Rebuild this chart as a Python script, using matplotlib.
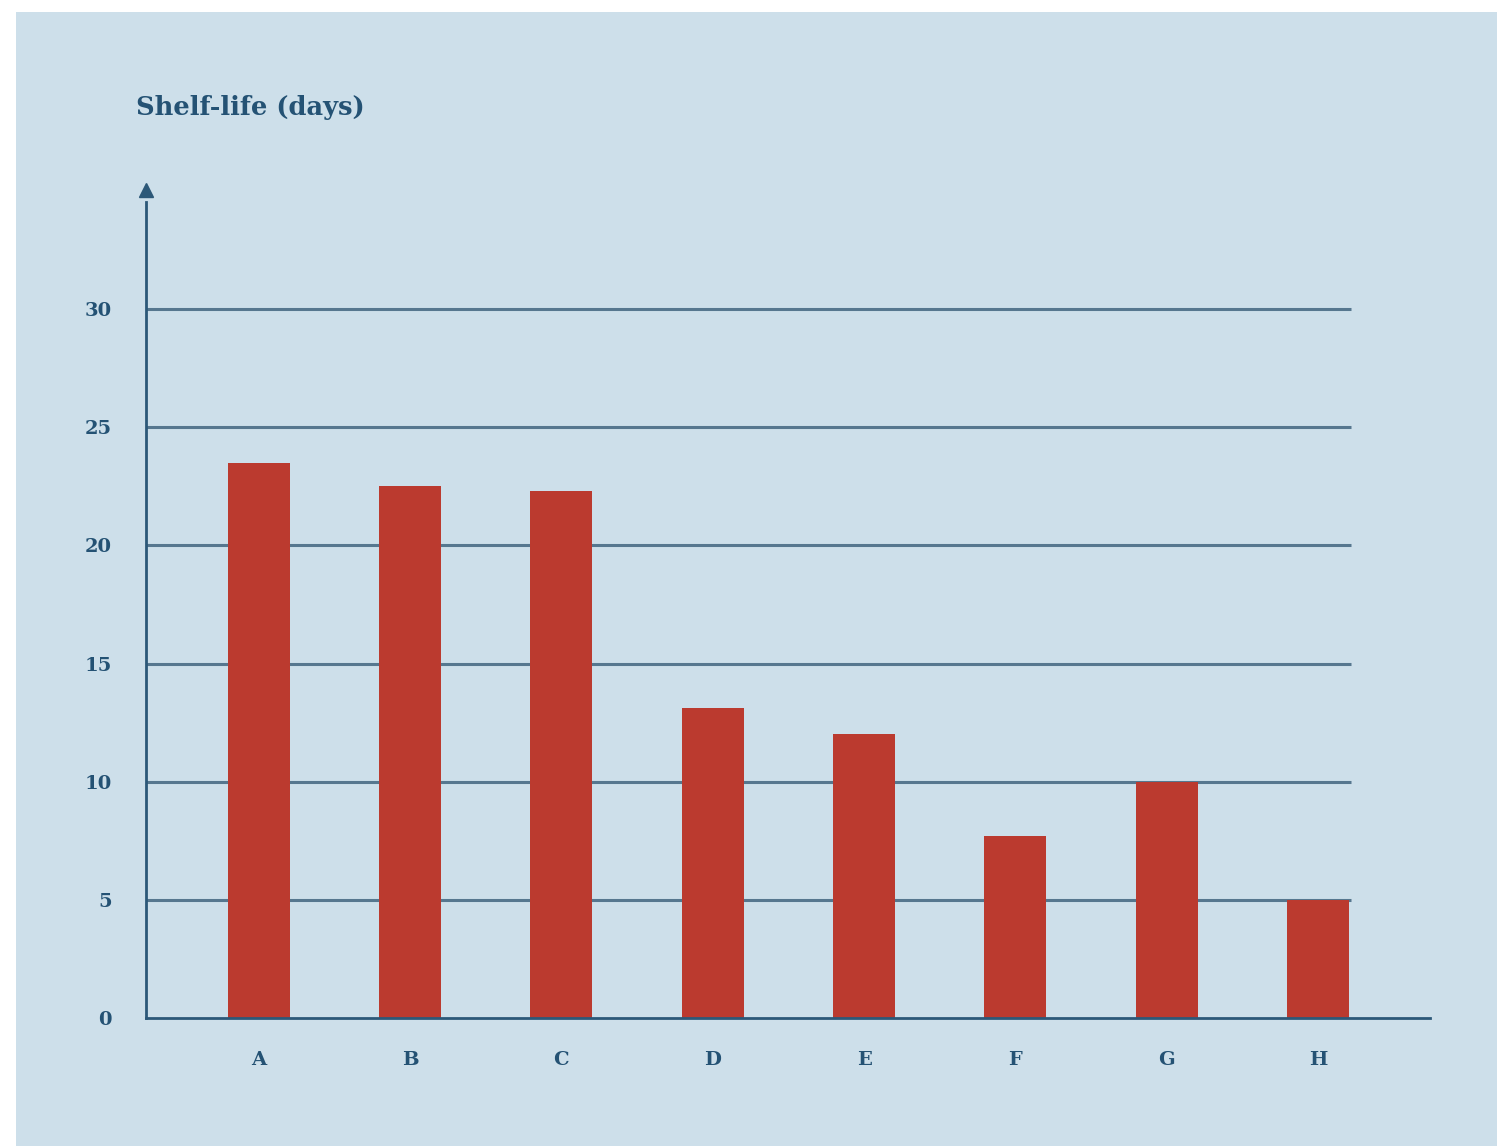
import matplotlib
matplotlib.use("Agg")
import matplotlib.pyplot as plt
from matplotlib.patches import Rectangle

# Shelf-life per product
categories = ["A", "B", "C", "D", "E", "F", "G", "H"]
shelf_life = [23.5, 22.5, 22.3, 13.1, 12.0, 7.7, 10.0, 5.0]
y_ticks = [0, 5, 10, 15, 20, 25, 30]

W, H = 1502, 1146
bg = "#cddfea"
bar_color = "#bb3a2f"
grid_color = "#56778f"
axis_color = "#2c5878"
text_color = "#245274"

fig = plt.figure(figsize=(W / 100, H / 100), dpi=100, facecolor="white")
fig.patches.append(Rectangle((16 / W, 0), (1497 - 16) / W, (H - 12) / H,
                             transform=fig.transFigure, facecolor=bg,
                             edgecolor="none", zorder=-10))

ax_left, ax_right = 146, 1430
ax_bottom, ax_top = 1018, 190
ax = fig.add_axes([ax_left / W, (H - ax_bottom) / H,
                   (ax_right - ax_left) / W, (ax_bottom - ax_top) / H])
ax.set_facecolor("none")

ymax = 35.04
ax.set_ylim(0, ymax)
ax.set_xlim(-0.745, 7.74)

x = list(range(len(categories)))
# horizontal reference lines behind the bars
ax.hlines(y_ticks[1:], -0.745, 7.22, colors=grid_color, linewidth=2.2, zorder=1)
ax.bar(x, shelf_life, width=0.41, color=bar_color, zorder=2)

for s in ["top", "right"]:
    ax.spines[s].set_visible(False)
for s in ["left", "bottom"]:
    ax.spines[s].set_color(axis_color)
    ax.spines[s].set_linewidth(2)
ax.spines["left"].set_bounds(0, ymax - 0.5)

# arrow head on the y-axis
ax.plot([0], [1], marker="^", markersize=10, color=axis_color,
        transform=ax.transAxes, clip_on=False, zorder=3)

font = dict(family="DejaVu Serif", weight="bold", color=text_color)
ax.set_yticks(y_ticks)
ax.set_yticklabels([str(v) for v in y_ticks], fontdict=dict(font, size=14))
ax.set_xticks(x)
ax.set_xticklabels(categories, fontdict=dict(font, size=14))
ax.tick_params(axis="both", length=0)
ax.tick_params(axis="y", pad=24.5)
ax.tick_params(axis="x", pad=24)

fig.text(136 / W, (H - 108) / H, "Shelf-life (days)", ha="left", va="center",
         fontsize=18.5, **font)

fig.savefig("out.png", dpi=100, facecolor="white")
